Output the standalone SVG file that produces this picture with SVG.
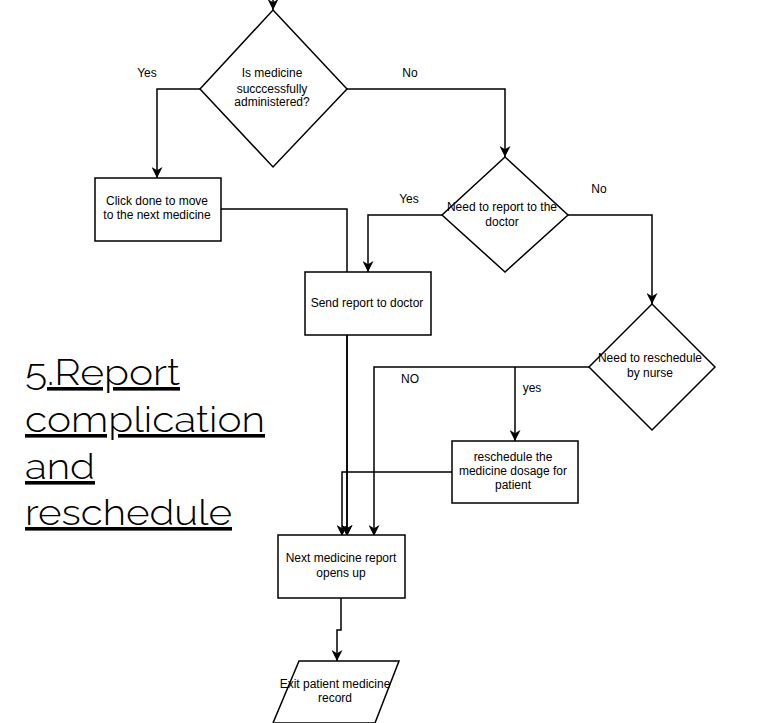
<svg xmlns="http://www.w3.org/2000/svg" width="757" height="723" viewBox="0 0 757 723">
<style>
.shape{fill:#fff;stroke:#000;stroke-width:1.5}
.conn{fill:none;stroke:#000;stroke-width:1.5}
.t{font-family:"Liberation Sans",Arial,sans-serif;font-size:12px;fill:#000;text-anchor:middle}
.lbl{font-family:"Liberation Sans",Arial,sans-serif;font-size:12px;fill:#000;text-anchor:middle}
.title{font-family:Raleway,Lato,"Open Sans",sans-serif;font-weight:300;font-size:36px;fill:#000;text-decoration:underline;font-variant-ligatures:none}
</style>
<defs>
<marker id="arr" markerUnits="userSpaceOnUse" viewBox="0 0 10 10" refX="10" refY="5" markerWidth="11" markerHeight="11" orient="auto">
<path d="M0,0 L10,5 L0,10 L3,5 z" fill="#000"/>
</marker>
</defs>
<rect width="757" height="723" fill="#fff"/>
<g id="connectors">
<path class="conn" d="M273,0 V10" marker-end="url(#arr)"/>
<path class="conn" d="M200,89 H157 V178" marker-end="url(#arr)"/>
<path class="conn" d="M347,89 H505 V157" marker-end="url(#arr)"/>
<path class="conn" d="M442,215 H368 V272" marker-end="url(#arr)"/>
<path class="conn" d="M568,215 H652 V304" marker-end="url(#arr)"/>
<path class="conn" d="M221,209 H347 V536" marker-end="url(#arr)"/>
<path class="conn" d="M347,335 V536" marker-end="url(#arr)"/>
<path class="conn" d="M589,367 H374 V536" marker-end="url(#arr)"/>
<path class="conn" d="M515,367 V441" marker-end="url(#arr)"/>
<path class="conn" d="M452,472 H342 V536" marker-end="url(#arr)"/>
<path class="conn" d="M341,598 V630 H337 V661" marker-end="url(#arr)"/>
<text class="lbl" x="147" y="77">Yes</text>
<text class="lbl" x="410" y="77">No</text>
<text class="lbl" x="409" y="203">Yes</text>
<text class="lbl" x="599" y="193">No</text>
<text class="lbl" x="410" y="383">NO</text>
<text class="lbl" x="532" y="392">yes</text>
</g>
<g id="n-decision1">
<polygon class="shape" points="273,10 347,89 273,167 200,89"/>
<text class="t" x="272" y="77">Is medicine</text>
<text class="t" x="272" y="93">succcessfully</text>
<text class="t" x="272" y="106">administered?</text>
</g>
<g id="n-click-done">
<rect class="shape" x="95" y="178" width="126" height="63"/>
<text class="t" x="157" y="205">Click done to move</text>
<text class="t" x="157" y="219">to the next medicine</text>
</g>
<g id="n-decision2">
<polygon class="shape" points="505,157 568,215 505,272 442,215"/>
<text class="t" x="502" y="211">Need to report to the</text>
<text class="t" x="502" y="226">doctor</text>
</g>
<g id="n-send-report">
<rect class="shape" x="305" y="272" width="126" height="63"/>
<text class="t" x="367" y="307">Send report to doctor</text>
</g>
<g id="n-decision3">
<polygon class="shape" points="652,304 715,367 652,430 589,367"/>
<text class="t" x="650" y="362">Need to reschedule</text>
<text class="t" x="650" y="377">by nurse</text>
</g>
<g id="n-reschedule">
<rect class="shape" x="452" y="441" width="126" height="62"/>
<text class="t" x="513" y="461">reschedule the</text>
<text class="t" x="513" y="475">medicine dosage for</text>
<text class="t" x="513" y="489">patient</text>
</g>
<g id="n-next">
<rect class="shape" x="278" y="535" width="127" height="63"/>
<text class="t" x="341" y="562">Next medicine report</text>
<text class="t" x="341" y="577">opens up</text>
</g>
<g id="n-exit">
<polygon class="shape" points="299,661 399,661 375,723 273,723"/>
<text class="t" x="335" y="688">Exit patient medicine</text>
<text class="t" x="335" y="702">record</text>
</g>
<g id="title">
<text class="title" x="25" y="385" textLength="155" lengthAdjust="spacingAndGlyphs">5.Report</text>
<text class="title" x="25" y="432" textLength="240" lengthAdjust="spacingAndGlyphs">complication</text>
<text class="title" x="25" y="479" textLength="70" lengthAdjust="spacingAndGlyphs">and</text>
<text class="title" x="25" y="525" textLength="207" lengthAdjust="spacingAndGlyphs">reschedule</text>
</g>
</svg>
